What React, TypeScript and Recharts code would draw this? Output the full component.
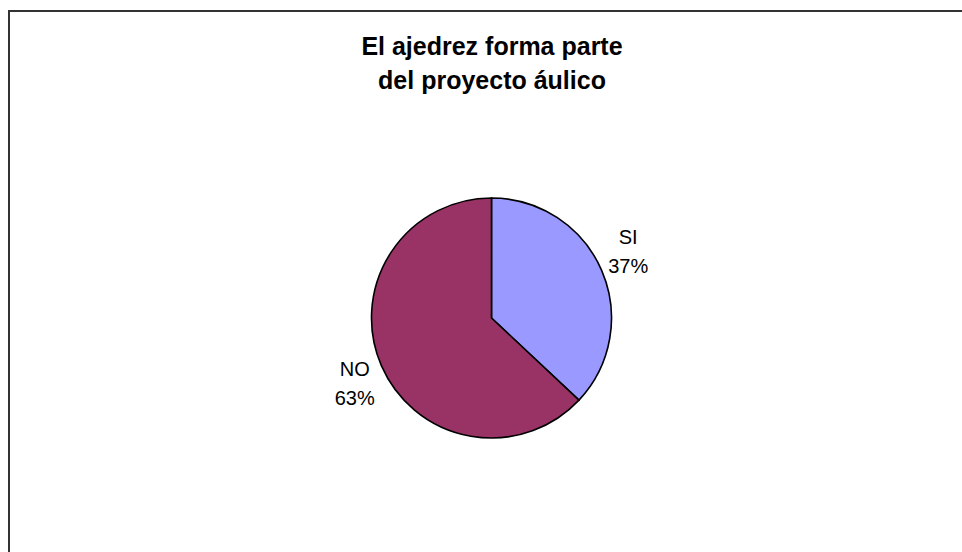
import React from 'react';
import { PieChart, Pie, Cell } from 'recharts';

const CATEGORIES = ['SI', 'NO'];
const VALUES = [37, 63];
const COLORS = ['#9999FF', '#993366'];
const TITLE_LINES = ['El ajedrez forma parte', 'del proyecto áulico'];

const data = CATEGORIES.map((name, i) => ({ name, value: VALUES[i] }));

const RAD = Math.PI / 180;

const renderLabel = (props: any) => {
  const { cx, cy, midAngle, outerRadius, name, percent } = props;
  const x = cx + (outerRadius + 29) * Math.cos(-midAngle * RAD);
  const y = cy + (outerRadius + 45) * Math.sin(-midAngle * RAD) + 6;
  return (
    <text
      x={x}
      y={y}
      textAnchor="middle"
      fill="#000"
      fontFamily="'Liberation Sans', Arial, sans-serif"
      fontSize={20}
    >
      <tspan x={x} dy={-14}>{name}</tspan>
      <tspan x={x} dy={29}>{`${Math.round(percent * 100)}%`}</tspan>
    </text>
  );
};

export default function App() {
  return (
    <div style={{ position: 'absolute', left: 0, top: 0, width: 962, height: 552, overflow: 'hidden', background: '#fff' }}>
      <div
        style={{
          position: 'absolute',
          left: 8,
          top: 10,
          width: 1000,
          height: 600,
          border: '2px solid #333',
        }}
      />
      <div
        style={{
          position: 'absolute',
          left: 292,
          top: 29,
          width: 400,
          textAlign: 'center',
          fontFamily: "'Liberation Sans', Arial, sans-serif",
          fontWeight: 700,
          fontSize: 25,
          lineHeight: '34px',
          color: '#000',
        }}
      >
        {TITLE_LINES.map((l) => (
          <div key={l}>{l}</div>
        ))}
      </div>
      <div style={{ position: 'absolute', left: 0, top: 0 }}>
        <PieChart width={962} height={552} margin={{ top: 0, right: 0, bottom: 0, left: 0 }}>
          <Pie
            data={data}
            dataKey="value"
            nameKey="name"
            cx={491.5}
            cy={318}
            outerRadius={120}
            startAngle={90}
            endAngle={-270}
            stroke="#000"
            strokeWidth={1.6}
            label={renderLabel}
            labelLine={false}
            isAnimationActive={false}
          >
            {data.map((d, i) => (
              <Cell key={d.name} fill={COLORS[i]} />
            ))}
          </Pie>
        </PieChart>
      </div>
    </div>
  );
}
